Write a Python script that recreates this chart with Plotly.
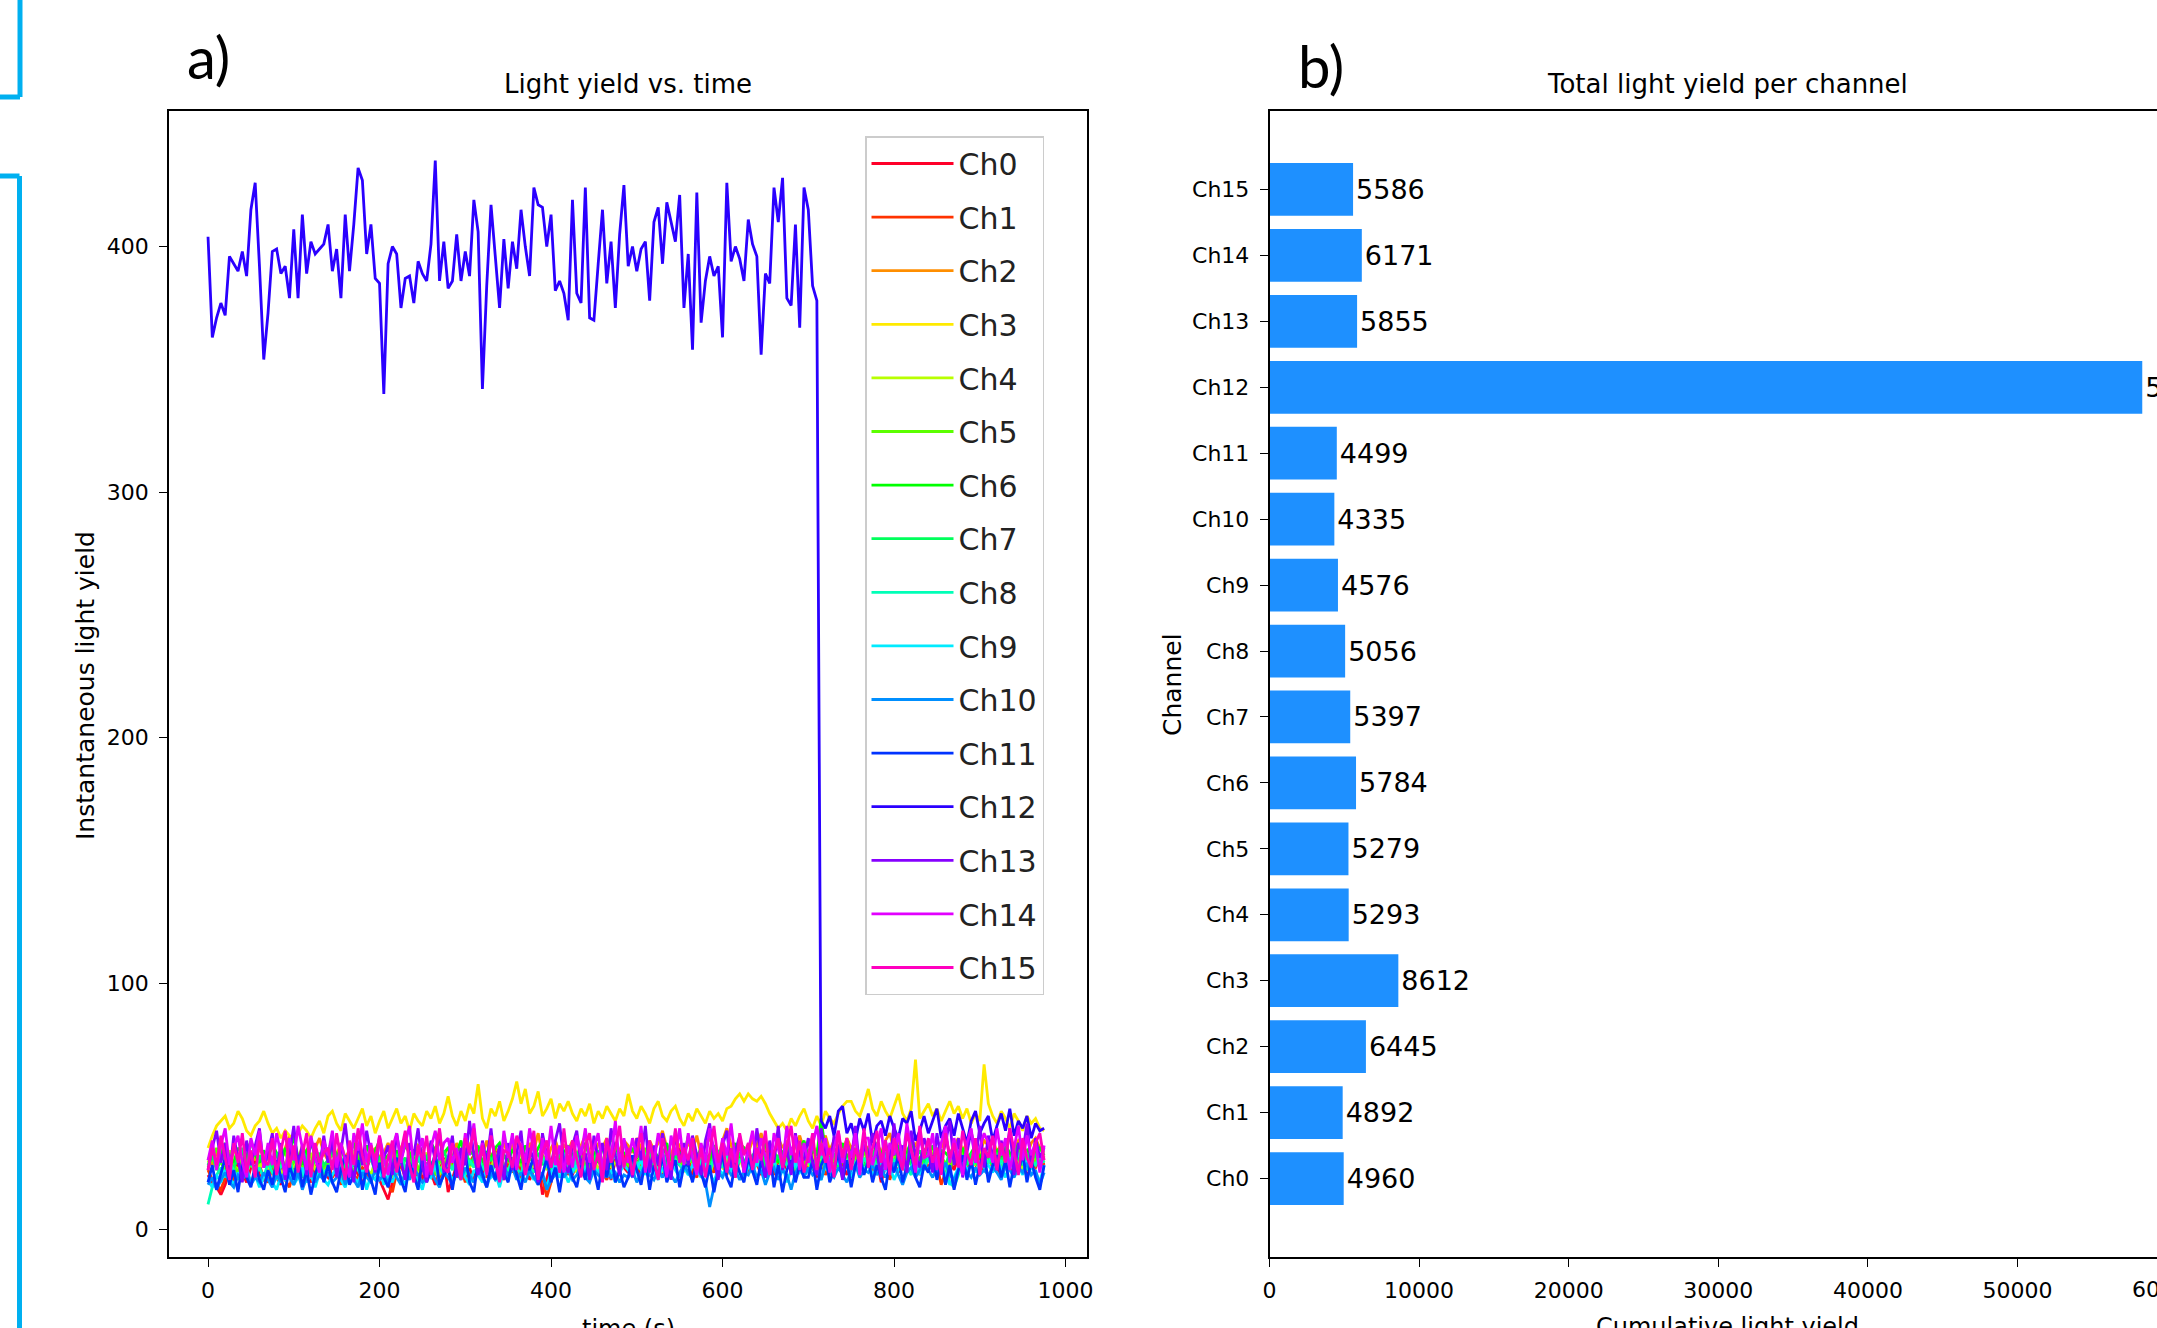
import plotly.graph_objects as go

# ---------------- data ----------------
TIME_S = list(range(0, 980, 5))  # sampling grid (s)

CH0 = [22, 19, 17, 14, 18, 24, 21, 27, 23, 19, 25, 28, 22, 20,
       24, 29, 21, 18, 26, 23, 20, 27, 31, 22, 19, 25, 28, 23,
       21, 26, 30, 24, 19, 23, 27, 22, 18, 25, 29, 24, 20, 16,
       12, 19, 25, 28, 22, 26, 31, 24, 20, 27, 23, 18, 24, 29,
       15, 21, 26, 23, 30, 25, 19, 28, 24, 22, 27, 32, 23, 20,
       26, 29, 22, 25, 31, 20, 24, 28, 14, 21, 27, 24, 30, 23,
       25, 22, 28, 33, 24, 21, 27, 30, 23, 26, 20, 28, 32, 25,
       23, 29, 26, 21, 28, 31, 24, 27, 22, 30, 25, 28, 33, 24,
       27, 22, 29, 25, 31, 26, 23, 28, 32, 24, 27, 21, 29, 26,
       24, 30, 27, 22, 28, 33, 25, 29, 23, 27, 31, 26, 24, 29,
       28, 25, 21, 30, 27, 33, 24, 29, 26, 22, 28, 31, 25, 27,
       30, 24, 28, 19, 26, 32, 27, 23, 29, 25, 31, 28, 22, 27,
       25, 29, 33, 26, 21, 28, 24, 30, 27, 23, 29, 32, 26, 24,
       28, 31, 25, 22, 29, 27, 33, 24, 28, 21, 26, 30, 25, 27]
CH1 = [24, 20, 18, 16, 21, 25, 19, 23, 27, 21, 18, 24, 26, 21,
       19, 25, 22, 27, 20, 17, 24, 28, 21, 23, 26, 19, 22, 25,
       27, 21, 24, 18, 26, 29, 22, 20, 25, 23, 19, 27, 24, 21,
       18, 15, 23, 26, 21, 28, 24, 19, 25, 22, 27, 23, 20, 26,
       24, 28, 21, 25, 19, 27, 30, 23, 26, 21, 24, 28, 22, 25,
       27, 23, 29, 20, 25, 22, 28, 24, 21, 13, 19, 26, 23, 28,
       22, 26, 30, 24, 21, 27, 25, 29, 23, 20, 26, 28, 24, 31,
       25, 22, 28, 26, 31, 24, 27, 21, 29, 25, 23, 30, 26, 24,
       28, 24, 21, 27, 25, 30, 23, 28, 26, 22, 29, 25, 31, 27,
       23, 29, 26, 24, 32, 27, 22, 28, 25, 30, 24, 27, 29, 23,
       26, 31, 24, 28, 22, 27, 30, 25, 23, 29, 26, 32, 24, 28,
       27, 23, 29, 25, 31, 20, 26, 28, 24, 30, 27, 22, 25, 29,
       24, 28, 26, 18, 23, 29, 27, 31, 25, 22, 28, 26, 30, 24,
       29, 25, 27, 23, 30, 26, 22, 28, 31, 24, 27, 25, 29, 26]
CH2 = [29, 26, 31, 34, 28, 25, 32, 30, 27, 35, 31, 28, 33, 29,
       32, 36, 30, 27, 33, 38, 31, 28, 34, 30, 26, 33, 37, 31,
       28, 33, 30, 35, 29, 32, 36, 31, 27, 34, 30, 33, 29, 31,
       35, 30, 27, 33, 37, 31, 29, 34, 32, 28, 35, 31, 36, 30,
       33, 29, 35, 31, 27, 34, 38, 32, 30, 36, 29, 33, 31, 35,
       30, 34, 37, 31, 28, 35, 32, 39, 30, 27, 33, 36, 31, 34,
       32, 36, 30, 34, 38, 31, 29, 35, 33, 37, 30, 34, 32, 36,
       34, 31, 37, 33, 29, 36, 32, 35, 40, 33, 30, 36, 34, 31,
       35, 32, 38, 30, 34, 37, 33, 29, 36, 41, 34, 31, 35, 33,
       31, 36, 34, 39, 32, 35, 30, 37, 33, 36, 29, 34, 38, 32,
       36, 33, 30, 35, 38, 32, 36, 34, 31, 37, 33, 35, 30, 34,
       33, 37, 34, 31, 36, 39, 32, 35, 33, 30, 36, 34, 38, 31,
       35, 32, 36, 33, 38, 30, 34, 37, 32, 35, 39, 33, 31, 36,
       34, 37, 31, 35, 33, 38, 32, 36, 34, 30, 35, 37, 33, 31]
CH3 = [33, 38, 42, 44, 46, 41, 43, 48, 45, 40, 38, 42, 44, 48,
       43, 39, 41, 37, 40, 38, 36, 39, 42, 40, 37, 41, 44, 39,
       46, 48, 43, 40, 47, 44, 41, 45, 49, 42, 46, 39, 44, 48,
       41, 45, 49, 43, 46, 40, 47, 44, 42, 48, 45, 50, 43, 47,
       54, 46, 42, 48, 44, 51, 47, 59, 45, 41, 49, 46, 52, 44,
       48, 53, 60, 51, 57, 47, 50, 56, 46, 49, 53, 45, 51, 48,
       52, 47, 44, 49, 46, 51, 43, 48, 45, 50, 47, 44, 49, 46,
       55, 48, 45, 50, 47, 43, 49, 52, 46, 44, 48, 50, 45, 42,
       47, 44, 49, 46, 43, 48, 45, 47, 44, 49, 50, 53, 55, 52,
       55, 53, 52, 54, 51, 47, 44, 41, 43, 40, 45, 42, 46, 49,
       44, 41, 46, 42, 48, 45, 43, 47, 50, 52, 52, 48, 46, 51,
       57, 49, 46, 52, 48, 45, 50, 55, 47, 44, 49, 69, 45, 48,
       51, 46, 49, 44, 48, 52, 47, 50, 45, 49, 43, 47, 44, 67,
       51, 46, 43, 48, 45, 41, 47, 44, 40, 46, 43, 45, 41, 40]
CH4 = [27, 30, 25, 22, 28, 32, 26, 24, 29, 23, 27, 31, 25, 28,
       24, 29, 26, 21, 27, 30, 25, 28, 23, 26, 31, 24, 27, 22,
       28, 25, 30, 23, 27, 26, 32, 24, 29, 25, 22, 28, 26, 30,
       25, 21, 27, 30, 24, 28, 26, 23, 29, 31, 25, 27, 22, 28,
       26, 30, 24, 27, 32, 25, 28, 23, 26, 29, 24, 31, 27, 25,
       29, 24, 27, 31, 25, 22, 28, 26, 30, 24, 27, 33, 26, 28,
       25, 28, 23, 27, 30, 26, 29, 24, 28, 32, 25, 27, 30, 26,
       28, 24, 30, 27, 25, 31, 26, 29, 23, 28, 26, 30, 27, 24,
       27, 31, 25, 29, 26, 22, 28, 30, 25, 27, 33, 26, 29, 24,
       30, 26, 28, 24, 31, 27, 25, 29, 32, 26, 28, 23, 30, 27,
       26, 29, 33, 27, 24, 30, 28, 25, 31, 27, 29, 26, 32, 28,
       29, 25, 28, 31, 27, 24, 30, 26, 29, 33, 27, 28, 25, 30,
       27, 32, 26, 29, 24, 28, 31, 27, 25, 30, 28, 26, 33, 29,
       28, 26, 30, 27, 32, 25, 29, 28, 24, 31, 27, 29, 26, 30]
CH5 = [25, 29, 33, 27, 24, 30, 26, 23, 28, 31, 26, 24, 29, 27,
       30, 26, 23, 28, 32, 25, 27, 30, 24, 28, 26, 33, 27, 25,
       27, 31, 26, 24, 29, 27, 23, 30, 28, 25, 31, 26, 28, 24,
       26, 23, 28, 30, 25, 27, 31, 24, 27, 29, 25, 22, 28, 26,
       29, 25, 27, 24, 30, 28, 26, 32, 25, 28, 23, 27, 30, 26,
       24, 28, 31, 26, 23, 29, 27, 25, 30, 26, 28, 24, 27, 31,
       28, 25, 27, 30, 26, 24, 31, 28, 25, 29, 27, 33, 26, 28,
       26, 30, 24, 28, 33, 27, 25, 29, 27, 24, 30, 26, 28, 25,
       29, 27, 31, 25, 28, 26, 30, 24, 27, 32, 28, 25, 29, 27,
       27, 24, 29, 32, 26, 28, 25, 30, 27, 29, 24, 28, 31, 26,
       30, 28, 25, 27, 31, 26, 29, 24, 28, 30, 26, 29, 27, 32,
       26, 29, 32, 28, 25, 30, 27, 33, 26, 28, 31, 25, 29, 27,
       28, 31, 26, 29, 27, 24, 30, 28, 32, 26, 29, 27, 25, 30,
       31, 27, 29, 25, 28, 30, 26, 32, 27, 29, 25, 28, 30, 27]
CH6 = [28, 32, 26, 30, 35, 29, 27, 33, 31, 28, 36, 30, 27, 32,
       29, 34, 31, 27, 33, 30, 38, 29, 26, 32, 35, 30, 28, 34,
       31, 37, 29, 33, 28, 31, 35, 27, 30, 34, 29, 32, 36, 28,
       30, 26, 32, 29, 34, 31, 27, 33, 30, 28, 35, 32, 29, 31,
       33, 29, 31, 36, 28, 32, 30, 34, 27, 31, 29, 33, 35, 30,
       28, 32, 30, 27, 34, 31, 29, 33, 36, 30, 27, 32, 29, 31,
       34, 30, 28, 32, 35, 29, 31, 27, 33, 30, 38, 32, 29, 31,
       30, 33, 29, 31, 27, 34, 32, 29, 30, 35, 28, 32, 31, 29,
       38, 31, 29, 33, 30, 28, 34, 31, 27, 32, 30, 35, 29, 33,
       31, 28, 33, 30, 35, 29, 32, 27, 31, 34, 30, 28, 33, 36,
       29, 32, 30, 45, 31, 28, 33, 30, 35, 29, 32, 31, 28, 34,
       32, 29, 35, 31, 28, 33, 30, 34, 29, 31, 36, 30, 28, 32,
       30, 34, 28, 32, 31, 29, 35, 30, 33, 28, 31, 34, 29, 32,
       33, 30, 32, 28, 34, 31, 29, 35, 30, 32, 28, 31, 33, 30]
CH7 = [26, 30, 24, 28, 31, 27, 25, 29, 33, 26, 28, 24, 30, 27,
       29, 25, 31, 27, 24, 30, 28, 26, 32, 29, 25, 28, 31, 26,
       28, 32, 26, 29, 25, 31, 27, 24, 30, 28, 33, 26, 29, 27,
       25, 28, 30, 26, 29, 24, 31, 28, 26, 30, 27, 25, 29, 32,
       27, 30, 25, 28, 33, 26, 29, 27, 24, 31, 28, 30, 26, 29,
       30, 26, 29, 32, 27, 25, 28, 31, 26, 29, 24, 28, 30, 27,
       26, 29, 31, 27, 24, 30, 28, 32, 27, 25, 29, 31, 28, 26,
       29, 27, 25, 30, 28, 33, 26, 29, 31, 27, 24, 30, 28, 29,
       28, 31, 27, 24, 30, 26, 29, 32, 28, 25, 30, 27, 31, 28,
       27, 30, 28, 31, 25, 29, 27, 30, 26, 33, 28, 26, 29, 31,
       30, 27, 29, 26, 32, 28, 31, 25, 29, 27, 30, 33, 28, 26,
       28, 32, 26, 30, 27, 29, 25, 31, 28, 30, 26, 29, 32, 27,
       31, 27, 30, 28, 25, 32, 29, 27, 30, 26, 31, 28, 24, 30,
       29, 26, 31, 28, 30, 27, 33, 29, 26, 31, 28, 30, 27, 29]
CH8 = [10, 17, 22, 25, 21, 27, 24, 20, 26, 23, 28, 22, 25, 21,
       27, 23, 20, 26, 24, 29, 22, 25, 21, 27, 24, 19, 26, 23,
       25, 28, 22, 26, 30, 23, 27, 24, 21, 26, 29, 23, 25, 28,
       22, 26, 24, 29, 25, 21, 27, 30, 24, 26, 23, 28, 25, 22,
       27, 24, 29, 26, 22, 28, 25, 31, 24, 27, 23, 26, 29, 25,
       24, 28, 25, 22, 30, 26, 23, 27, 29, 25, 28, 24, 26, 31,
       26, 23, 29, 27, 24, 30, 26, 22, 28, 25, 27, 31, 24, 28,
       29, 25, 27, 24, 31, 26, 28, 23, 27, 30, 25, 28, 26, 24,
       27, 30, 24, 28, 26, 23, 29, 27, 25, 31, 26, 24, 28, 27,
       25, 28, 31, 26, 24, 29, 27, 23, 30, 26, 28, 25, 27, 30,
       28, 24, 27, 30, 26, 29, 25, 28, 24, 27, 31, 26, 23, 29,
       26, 29, 25, 27, 31, 24, 28, 26, 30, 25, 22, 28, 27, 24,
       29, 25, 28, 23, 26, 19, 17, 22, 27, 30, 25, 28, 26, 29,
       27, 30, 25, 28, 24, 29, 26, 31, 27, 24, 28, 26, 30, 27]
CH9 = [20, 17, 22, 19, 24, 21, 18, 23, 20, 25, 19, 22, 17, 21,
       23, 19, 16, 22, 20, 24, 18, 21, 25, 19, 22, 17, 23, 20,
       18, 22, 25, 20, 17, 23, 21, 19, 24, 16, 22, 20, 25, 18,
       22, 19, 24, 21, 18, 25, 22, 20, 16, 23, 21, 26, 19, 22,
       24, 20, 23, 26, 21, 18, 24, 22, 19, 25, 21, 23, 17, 24,
       21, 25, 22, 19, 26, 23, 20, 24, 22, 17, 23, 26, 21, 24,
       19, 23, 26, 22, 24, 20, 25, 23, 27, 21, 24, 19, 23, 26,
       24, 21, 25, 28, 22, 26, 23, 20, 25, 22, 27, 24, 21, 25,
       22, 26, 24, 21, 27, 23, 19, 25, 22, 26, 24, 28, 23, 20,
       26, 23, 27, 24, 21, 25, 28, 22, 26, 19, 24, 27, 23, 25,
       23, 27, 24, 20, 26, 22, 25, 28, 23, 26, 21, 25, 27, 24,
       27, 22, 25, 28, 24, 26, 20, 24, 27, 23, 25, 29, 22, 26,
       24, 28, 23, 26, 22, 18, 21, 25, 28, 24, 26, 23, 27, 25,
       26, 23, 28, 25, 21, 27, 24, 26, 22, 28, 25, 23, 19, 26]
CH10 = [18, 21, 16, 20, 23, 19, 17, 22, 20, 24, 18, 21, 19, 23,
        20, 17, 22, 19, 24, 21, 18, 23, 16, 21, 25, 19, 22, 20,
        23, 19, 21, 25, 18, 22, 20, 17, 23, 21, 19, 24, 20, 22,
        19, 24, 21, 18, 23, 20, 25, 22, 19, 21, 24, 20, 17, 23,
        21, 18, 23, 20, 25, 22, 19, 24, 21, 17, 23, 20, 22, 25,
        22, 25, 20, 23, 19, 24, 21, 18, 23, 16, 20, 22, 25, 21,
        24, 20, 22, 26, 21, 19, 24, 22, 20, 25, 21, 23, 19, 22,
        21, 24, 19, 23, 26, 22, 20, 24, 21, 25, 22, 19, 23, 26,
        23, 20, 25, 22, 19, 9, 17, 23, 21, 25, 22, 24, 20, 23,
        22, 26, 21, 24, 18, 23, 25, 20, 24, 22, 16, 23, 26, 21,
        25, 22, 24, 20, 27, 23, 21, 25, 22, 19, 24, 26, 21, 24,
        23, 26, 22, 25, 21, 24, 27, 22, 18, 23, 25, 21, 24, 26,
        24, 21, 25, 23, 27, 22, 20, 24, 26, 23, 21, 25, 22, 24,
        22, 25, 23, 20, 26, 24, 21, 25, 23, 27, 22, 24, 18, 23]
CH11 = [19, 26, 16, 22, 29, 18, 24, 15, 27, 21, 17, 26, 20, 16,
        24, 18, 28, 21, 15, 26, 20, 30, 17, 24, 14, 22, 28, 19,
        26, 19, 15, 24, 30, 18, 22, 28, 16, 25, 20, 14, 27, 21,
        17, 24, 29, 20, 15, 27, 22, 16, 29, 19, 24, 31, 18, 22,
        25, 16, 27, 21, 31, 19, 15, 28, 22, 17, 26, 20, 30, 23,
        19, 28, 22, 16, 27, 24, 30, 18, 22, 29, 19, 25, 15, 26,
        28, 21, 17, 26, 20, 30, 24, 16, 27, 21, 31, 19, 24, 17,
        21, 30, 24, 18, 28, 16, 26, 21, 30, 19, 24, 28, 17, 26,
        26, 19, 28, 23, 17, 26, 15, 24, 30, 21, 17, 28, 23, 19,
        29, 23, 18, 28, 21, 31, 17, 26, 15, 24, 28, 19, 26, 21,
        21, 28, 16, 26, 30, 19, 24, 31, 20, 28, 17, 26, 30, 22,
        28, 19, 26, 21, 16, 28, 23, 30, 19, 26, 31, 21, 17, 26,
        23, 30, 20, 28, 18, 26, 16, 24, 30, 20, 28, 18, 26, 31,
        19, 26, 30, 21, 28, 17, 26, 23, 31, 19, 28, 21, 16, 26]
CH12 = [404, 363, 371, 377, 372, 396, 393, 390, 398, 388, 415, 426, 392, 354,
        373, 398, 399, 389, 392, 379, 407, 379, 413, 389, 402, 397, 399, 401,
        409, 390, 399, 379, 413, 390, 409, 432, 427, 397, 409, 387, 385, 340,
        393, 400, 397, 375, 387, 388, 377, 394, 389, 386, 401, 435, 386, 402,
        383, 386, 405, 386, 398, 388, 419, 406, 342, 384, 417, 394, 375, 403,
        383, 402, 391, 415, 400, 388, 424, 417, 416, 400, 413, 382, 386, 381,
        370, 419, 381, 377, 424, 371, 370, 393, 415, 385, 402, 375, 405, 425,
        392, 400, 390, 399, 402, 378, 410, 416, 393, 418, 410, 402, 421, 375,
        397, 358, 422, 369, 386, 396, 388, 392, 363, 426, 394, 400, 395, 386,
        411, 401, 396, 356, 389, 385, 424, 410, 428, 379, 376, 409, 367, 424,
        415, 384, 378, 44, 41, 46, 38, 48, 50, 39, 43, 36, 45, 40,
        47, 35, 42, 44, 38, 46, 41, 37, 45, 43, 48, 36, 40, 46,
        39, 44, 49, 37, 42, 45, 38, 47, 41, 35, 44, 48, 39, 43,
        46, 36, 42, 47, 40, 49, 38, 44, 41, 46, 37, 43, 40, 41]
CH13 = [24, 33, 40, 27, 35, 21, 38, 29, 19, 36, 26, 34, 41, 25,
        31, 39, 23, 35, 20, 30, 42, 26, 34, 22, 37, 29, 24, 38,
        27, 36, 21, 32, 43, 28, 19, 35, 26, 40, 30, 23, 37, 29,
        34, 22, 39, 28, 20, 35, 30, 41, 25, 19, 36, 28, 40, 23,
        29, 38, 21, 33, 26, 44, 30, 22, 36, 27, 41, 25, 34, 20,
        35, 24, 31, 40, 22, 33, 28, 19, 39, 30, 25, 36, 43, 27,
        23, 34, 40, 26, 31, 20, 38, 28, 35, 24, 41, 30, 22, 36,
        31, 21, 37, 28, 42, 23, 34, 26, 39, 30, 20, 40, 27, 35,
        26, 38, 30, 22, 36, 43, 28, 20, 34, 40, 25, 31, 38, 23,
        33, 25, 41, 29, 21, 36, 27, 42, 24, 33, 22, 39, 30, 28,
        37, 27, 22, 41, 31, 24, 38, 33, 20, 36, 28, 42, 25, 34,
        29, 39, 31, 21, 36, 26, 43, 28, 34, 23, 40, 30, 25, 37,
        32, 23, 39, 28, 35, 44, 26, 37, 21, 31, 40, 27, 42, 25,
        38, 30, 24, 36, 28, 41, 22, 35, 31, 43, 26, 37, 29, 33]
CH14 = [28, 36, 24, 34, 41, 26, 33, 38, 27, 21, 37, 30, 40, 25,
        35, 26, 39, 30, 22, 37, 28, 42, 33, 24, 38, 29, 23, 36,
        30, 40, 25, 35, 28, 21, 39, 32, 43, 27, 35, 24, 38, 29,
        22, 33, 39, 27, 35, 42, 25, 31, 37, 21, 33, 40, 28, 35,
        37, 27, 33, 24, 39, 30, 43, 26, 35, 23, 38, 29, 21, 40,
        29, 39, 24, 35, 27, 41, 32, 22, 37, 28, 42, 26, 34, 23,
        34, 25, 38, 30, 41, 27, 33, 39, 24, 35, 29, 44, 26, 37,
        27, 37, 29, 42, 23, 35, 27, 39, 32, 21, 38, 30, 41, 26,
        39, 29, 22, 35, 27, 41, 32, 24, 37, 30, 43, 27, 35, 23,
        32, 40, 27, 37, 29, 22, 39, 33, 26, 42, 30, 38, 24, 35,
        27, 34, 42, 30, 37, 23, 33, 40, 27, 35, 29, 39, 22, 37,
        37, 26, 33, 41, 24, 35, 30, 39, 27, 43, 32, 23, 38, 29,
        30, 39, 24, 35, 42, 27, 37, 30, 22, 35, 41, 27, 33, 39,
        35, 27, 41, 30, 37, 24, 33, 42, 28, 38, 30, 35, 23, 34]
CH15 = [24, 33, 26, 38, 29, 20, 35, 27, 39, 23, 32, 21, 36, 28,
        26, 37, 22, 32, 40, 25, 34, 23, 30, 39, 21, 35, 27, 31,
        33, 24, 39, 28, 20, 36, 26, 41, 30, 23, 34, 28, 38, 21,
        29, 36, 23, 31, 40, 26, 19, 34, 28, 38, 22, 31, 41, 25,
        23, 35, 29, 20, 37, 31, 41, 25, 34, 22, 38, 28, 19, 32,
        31, 25, 38, 33, 22, 29, 40, 20, 31, 36, 25, 34, 23, 41,
        26, 36, 28, 21, 34, 39, 24, 31, 19, 37, 27, 33, 42, 25,
        33, 22, 31, 39, 25, 36, 28, 20, 37, 30, 24, 41, 27, 33,
        28, 37, 24, 33, 21, 31, 42, 27, 35, 23, 33, 21, 39, 30,
        35, 24, 33, 28, 40, 22, 31, 37, 25, 33, 42, 27, 36, 23,
        30, 39, 24, 35, 27, 33, 21, 40, 29, 37, 24, 33, 27, 41,
        25, 33, 40, 27, 36, 22, 37, 30, 24, 39, 32, 26, 42, 29,
        37, 27, 33, 22, 39, 29, 35, 25, 40, 31, 26, 37, 22, 33,
        29, 38, 24, 35, 27, 41, 32, 22, 37, 29, 25, 35, 39, 28]

CHANNEL_NAMES = ["Ch0", "Ch1", "Ch2", "Ch3", "Ch4", "Ch5", "Ch6", "Ch7",
                 "Ch8", "Ch9", "Ch10", "Ch11", "Ch12", "Ch13", "Ch14", "Ch15"]
LINE_COLORS = ["#ff0029", "#ff3300", "#ff8e00", "#ffea00", "#b8ff00", "#5cff00",
               "#00ff00", "#00ff5b", "#00ffb7", "#00ebff", "#008fff", "#0033ff",
               "#2a00ff", "#8600ff", "#e200ff", "#ff00bf"]
TOTAL_LIGHT_YIELD = [4960, 4892, 6445, 8612, 5293, 5279, 5784, 5397,
                     5056, 4576, 4335, 4499, 58340, 5855, 6171, 5586]

SERIES = [CH0, CH1, CH2, CH3, CH4, CH5, CH6, CH7,
          CH8, CH9, CH10, CH11, CH12, CH13, CH14, CH15]

X_TICKS_LEFT = [0, 200, 400, 600, 800, 1000]
Y_TICKS_LEFT = [0, 100, 200, 300, 400]
X_TICKS_RIGHT = [0, 10000, 20000, 30000, 40000, 50000]

# ---------------- layout helpers ----------------
W, H = 2157, 1328
FONT = "DejaVu Sans"


def fx(p):
    return p / W


def fy(p):
    return 1 - p / H


fig = go.Figure()

for name, vals, col in zip(CHANNEL_NAMES, SERIES, LINE_COLORS):
    fig.add_trace(go.Scatter(
        x=TIME_S, y=vals, mode="lines", name=name,
        line=dict(color=col, width=2.8),
        legendgroup=name, xaxis="x", yaxis="y",
    ))

fig.add_trace(go.Bar(
    x=TOTAL_LIGHT_YIELD, y=CHANNEL_NAMES, orientation="h",
    xaxis="x2", yaxis="y2", width=0.8,
    marker=dict(color="#1e90ff", line=dict(width=0)),
    text=[str(v) for v in TOTAL_LIGHT_YIELD], textposition="outside",
    textfont=dict(family=FONT, size=27, color="black"),
    cliponaxis=False, constraintext="none", showlegend=False,
))

axis_common = dict(
    showgrid=False, zeroline=False, showline=True, linecolor="black",
    linewidth=1.5, ticks="outside", ticklen=8, tickwidth=1.3,
    tickcolor="black", tickfont=dict(family=FONT, size=22, color="black"),
    automargin=False,
)

fig.update_layout(
    width=W, height=H,
    margin=dict(l=0, r=0, t=0, b=0, autoexpand=False),
    paper_bgcolor="white", plot_bgcolor="white",
    font=dict(family=FONT, color="black"),
    xaxis=dict(domain=[fx(169), fx(1087)], range=[-45.5, 1025],
               tickvals=X_TICKS_LEFT, mirror=True, anchor="y",
               ticklabelstandoff=5, **axis_common),
    yaxis=dict(domain=[fy(1257), fy(111)], range=[-11.4, 455.2],
               tickvals=Y_TICKS_LEFT, mirror=True, anchor="x",
               ticklabelstandoff=6, **axis_common),
    xaxis2=dict(domain=[fx(1269.5), 1.0], range=[0, 59325],
                tickvals=X_TICKS_RIGHT, tickformat="d", mirror=True, anchor="y2",
                ticklabelstandoff=5, **axis_common),
    yaxis2=dict(domain=[fy(1257), fy(111)], type="category",
                categoryorder="array", categoryarray=CHANNEL_NAMES,
                range=[-1.19, 16.19], mirror=False, anchor="x2",
                ticklabelstandoff=6, **axis_common),
    showlegend=True,
    legend=dict(
        x=fx(865), y=fy(136), xanchor="left", yanchor="top",
        bgcolor="rgba(255,255,255,0.9)", bordercolor="#cccccc", borderwidth=1.5,
        font=dict(family=FONT, size=30, color="#222222"),
        tracegroupgap=11.6, itemwidth=82,
    ),
)

annotations = [
    dict(text="a)", x=fx(208), y=fy(57), font=dict(family="Lato", size=58, color="black")),
    dict(text="b)", x=fx(1321), y=fy(66), font=dict(family="Lato", size=58, color="black")),
    dict(text="Light yield vs. time", x=fx(628), y=fy(101), yanchor="bottom",
         font=dict(family=FONT, size=26, color="black")),
    dict(text="Total light yield per channel", x=fx(1727.5), y=fy(101), yanchor="bottom",
         font=dict(family=FONT, size=26, color="black")),
    dict(text="Instantaneous light yield", x=fx(85), y=fy(686), textangle=-90,
         font=dict(family=FONT, size=25, color="black")),
    dict(text="Channel", x=fx(1172), y=fy(685), textangle=-90,
         font=dict(family=FONT, size=25, color="black")),
    dict(text="time (s)", x=fx(628), y=fy(1313), yanchor="top",
         font=dict(family=FONT, size=24, color="black")),
    dict(text="Cumulative light yield", x=fx(1727.5), y=fy(1311), yanchor="top",
         font=dict(family=FONT, size=24, color="black")),
    # tick label of the 60000 tick that sits at the (cropped) right edge
    dict(text="60000", x=fx(2167), y=fy(1289),
         font=dict(family=FONT, size=22, color="black")),
]
for a in annotations:
    a.setdefault("xref", "paper")
    a.setdefault("yref", "paper")
    a.setdefault("xanchor", "center")
    a.setdefault("yanchor", "middle")
    a["showarrow"] = False
    fig.add_annotation(**a)

# slide decoration brackets at the far left
BRACKET = "#00b0f0"
for x0, y0, x1, y1 in [(0, 97, 20, 97), (20, 97, 20, 0), (0, 176, 19.5, 176), (19.5, 176, 19.5, H)]:
    fig.add_shape(type="line", xref="paper", yref="paper",
                  x0=fx(x0), y0=fy(y0), x1=fx(x1), y1=fy(y1),
                  line=dict(color=BRACKET, width=5))

# remove the browser's default 8px body margin so the figure sits at the page origin
fig.write_html("out.html",
               config={"displayModeBar": False},
               post_script="document.body.style.margin='0px';document.body.style.overflow='hidden';")
